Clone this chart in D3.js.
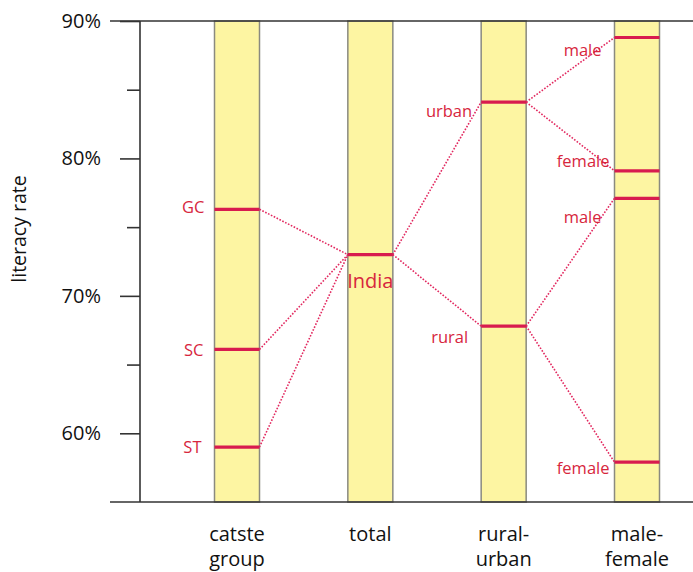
<!DOCTYPE html>
<html>
<head>
<meta charset="utf-8">
<script src="https://cdn.jsdelivr.net/npm/d3@7"></script>
<style>
  body { margin: 0; background: #fff; }
  svg text { font-family: "Open Sans", "Noto Sans", sans-serif; }
</style>
</head>
<body>
<svg id="chart" width="693" height="572"></svg>
<script>
// columns along the x axis
var categories = ["catste group", "total", "rural-urban", "male-female"];
var categoryLines = [["catste", "group"], ["total"], ["rural-", "urban"], ["male-", "female"]];

// every marked value, by column
var pointNames  = ["GC", "SC", "ST", "India", "urban", "rural", "male", "female", "male", "female"];
var pointCats   = [0, 0, 0, 1, 2, 2, 3, 3, 3, 3];
var pointValues = [76.3, 66.1, 59.0, 73.0, 84.1, 67.8, 88.8, 79.1, 77.1, 57.9];

// which point splits into which (source index, target index)
var links = [[0, 3], [1, 3], [2, 3], [3, 4], [3, 5], [4, 6], [4, 7], [5, 8], [5, 9]];

var yTicks = [60, 70, 80, 90];
var yMinorTicks = [65, 75, 85];

// label nudges (layout only): [dx from bar left edge, dy from mark]
var labelNudge = [[-10, 4], [-11, 7], [-13, 6], [null, 33], [-9, 15], [-13, 17], [-13, 19], [-5, -4], [-13, 25], [-5, 12]];

var svg = d3.select("#chart");
var red = "#d81b4f", labelRed = "#d7263d", barW = 45;

var y = d3.scaleLinear().domain([55, 90]).range([502, 21]);
var x = d3.scalePoint().domain(categories).range([237, 637]);

// bars
svg.append("g").selectAll("rect")
  .data(categories)
  .enter().append("rect")
  .attr("x", function(d){ return x(d) - barW / 2; })
  .attr("y", y(90))
  .attr("width", barW)
  .attr("height", y(55) - y(90))
  .attr("fill", "#fdf5a2")
  .attr("stroke", "#8a8a80")
  .attr("stroke-width", 1.5);

// frame lines top and bottom
svg.append("g").selectAll("line")
  .data([90, 55])
  .enter().append("line")
  .attr("x1", 110).attr("x2", 693)
  .attr("y1", function(d){ return y(d); })
  .attr("y2", function(d){ return y(d); })
  .attr("stroke", "#333").attr("stroke-width", 1.6);

// y axis
var axis = svg.append("g")
  .attr("transform", "translate(140,0)")
  .call(d3.axisLeft(y).tickValues(yTicks).tickSize(20).tickPadding(19)
    .tickFormat(function(d){ return d + "%"; }));
axis.select(".domain").remove();
axis.selectAll("line").attr("stroke", "#333").attr("stroke-width", 1.6);
axis.selectAll("text").attr("font-size", 20).attr("fill", "#111")
  .attr("font-family", "'Open Sans', sans-serif");

var minor = svg.append("g")
  .attr("transform", "translate(140,0)")
  .call(d3.axisLeft(y).tickValues(yMinorTicks).tickSize(13).tickFormat(""));
minor.select(".domain").remove();
minor.selectAll("line").attr("stroke", "#333").attr("stroke-width", 1.6);

svg.append("line")
  .attr("x1", 140).attr("x2", 140)
  .attr("y1", y(90)).attr("y2", y(55))
  .attr("stroke", "#333").attr("stroke-width", 1.6);

svg.append("text")
  .attr("transform", "translate(26,229) rotate(-90)")
  .attr("text-anchor", "middle")
  .attr("font-size", 19.5)
  .attr("fill", "#111")
  .text("literacy rate");

// category labels
var cl = svg.append("g").selectAll("text")
  .data(categories)
  .enter().append("text")
  .attr("text-anchor", "middle")
  .attr("font-size", 20)
  .attr("fill", "#111");
cl.each(function(d, i){
  var t = d3.select(this);
  categoryLines[i].forEach(function(s, j){
    t.append("tspan").attr("x", x(d)).attr("y", 541 + j * 25).text(s);
  });
});

// dotted links
svg.append("g").selectAll("line")
  .data(links)
  .enter().append("line")
  .attr("x1", function(d){ return x(categories[pointCats[d[0]]]) + barW / 2; })
  .attr("y1", function(d){ return y(pointValues[d[0]]); })
  .attr("x2", function(d){ return x(categories[pointCats[d[1]]]) - barW / 2; })
  .attr("y2", function(d){ return y(pointValues[d[1]]); })
  .attr("stroke", "#e2285f")
  .attr("stroke-width", 1.6)
  .attr("stroke-dasharray", "1.6,1.6");

// value marks
svg.append("g").selectAll("line")
  .data(pointValues)
  .enter().append("line")
  .attr("x1", function(d, i){ return x(categories[pointCats[i]]) - barW / 2; })
  .attr("x2", function(d, i){ return x(categories[pointCats[i]]) + barW / 2; })
  .attr("y1", function(d){ return y(d); })
  .attr("y2", function(d){ return y(d); })
  .attr("stroke", red)
  .attr("stroke-width", 3.2);

// point labels
svg.append("g").selectAll("text")
  .data(pointValues)
  .enter().append("text")
  .attr("x", function(d, i){
    var cx = x(categories[pointCats[i]]);
    return labelNudge[i][0] === null ? cx : cx - barW / 2 + labelNudge[i][0];
  })
  .attr("y", function(d, i){ return y(d) + labelNudge[i][1]; })
  .attr("text-anchor", function(d, i){ return labelNudge[i][0] === null ? "middle" : "end"; })
  .attr("font-size", function(d, i){ return labelNudge[i][0] === null ? 20 : 16.5; })
  .attr("fill", labelRed)
  .text(function(d, i){ return pointNames[i]; });
</script>
</body>
</html>
